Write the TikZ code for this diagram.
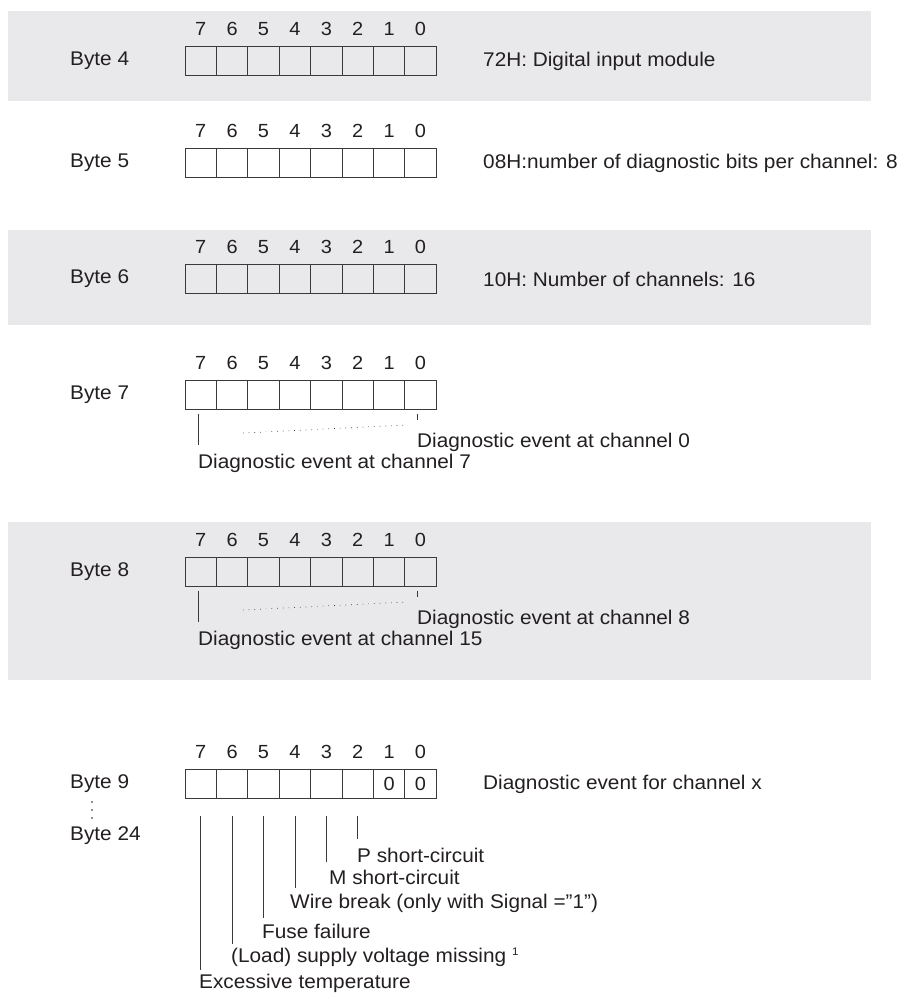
\documentclass[tikz,border=0pt]{standalone}
\usepackage{fontspec}
\setmainfont[FakeStretch=1.05]{Liberation Sans}
\definecolor{bandgray}{HTML}{E9E9EB}
\definecolor{txt}{HTML}{231F20}
\definecolor{ln}{HTML}{3A3A3A}
\tikzset{
  band/.style={fill=bandgray, draw=none},
  cell/.style={draw=ln, line width=0.9pt, minimum width=31.4pt, minimum height=29pt, inner sep=0pt, outer sep=0pt, font=\fontsize{19}{22}\selectfont, text=txt},
  digit/.style={inner sep=0pt, font=\fontsize{19}{22}\selectfont, text=txt},
  lbl/.style={anchor=west, inner sep=0pt, font=\fontsize{19.8}{23}\selectfont, text=txt},
  tick/.style={draw=ln, line width=0.8pt},
  dotline/.style={draw=ln, line width=0.7pt, dash pattern=on 0.7pt off 5pt},
}
\newcommand\byterow[2]{%
  \foreach \b in {0,...,7}{%
    \node[cell] (#1c\b) at ({200.7+31.4*(7-\b)},#2) {};
    \node[digit] (#1d\b) at ({200.7+31.4*(7-\b)},{#2-32}) {\b};
  }%
}
\begin{document}
\begin{tikzpicture}[x=1pt,y=-1pt]
\useasboundingbox (0,0) rectangle (909,999);
% bands
\fill[band] (8,11) rectangle (871,101);
\fill[band] (8,230) rectangle (871,325);
\fill[band] (8,522) rectangle (871,680);

% Byte 4
\byterow{bA}{61}
\node[lbl] (lA) at (70,61) {Byte 4};
\node[lbl] (tA) at (483,61) {72H: Digital input module};

% Byte 5
\byterow{bB}{163}
\node[lbl] (lB) at (70,163) {Byte 5};
\node[lbl] (tB) at (483,163) {08H:number of diagnostic bits per channel: 8};

% Byte 6
\byterow{bC}{279}
\node[lbl] (lC) at (70,279) {Byte 6};
\node[lbl] (tC) at (483,279) {10H: Number of channels: 16};

% Byte 7
\byterow{bD}{395}
\node[lbl] (lD) at (70,395) {Byte 7};
\node[lbl] (chD0) at (417,442) {Diagnostic event at channel 0};
\node[lbl] (chD7) at (198,463) {Diagnostic event at channel 7};
\coordinate (dDa) at (198,414);
\coordinate (dDb) at (198,445);
\draw[tick] (dDa) -- (dDb);
\coordinate (dDc) at (417,414);
\coordinate (dDd) at (417,420);
\draw[tick] (dDc) -- (dDd);
\coordinate (dDe) at (243,433);
\coordinate (dDf) at (407,425);
\draw[dotline] (dDe) -- (dDf);

% Byte 8
\byterow{bE}{572}
\node[lbl] (lE) at (70,572) {Byte 8};
\node[lbl] (chE0) at (417,619) {Diagnostic event at channel 8};
\node[lbl] (chE7) at (198,640) {Diagnostic event at channel 15};
\coordinate (dEa) at (198,591);
\coordinate (dEb) at (198,622);
\draw[tick] (dEa) -- (dEb);
\coordinate (dEc) at (417,591);
\coordinate (dEd) at (417,597);
\draw[tick] (dEc) -- (dEd);
\coordinate (dEe) at (243,610);
\coordinate (dEf) at (407,602);
\draw[dotline] (dEe) -- (dEf);

% Byte 9
\byterow{bF}{784}
\node[digit] at (bFc1) {0};
\node[digit] at (bFc0) {0};
\node[lbl] (lF) at (70,784) {Byte 9};
\node[lbl] (lG) at (70,836) {Byte 24};
\foreach \yy in {802,810,818} \fill[txt] (92,\yy) circle (0.8pt);
\node[lbl] (tF) at (483,784) {Diagnostic event for channel x};

\node[lbl] (e2) at (357,855) {P short-circuit};
\node[lbl] (e3) at (329,877) {M short-circuit};
\node[lbl] (e4) at (290,903) {Wire break (only with Signal =”1”)};
\node[lbl] (e5) at (262,931) {Fuse failure};
\node[lbl] (e6) at (231,957) {(Load) supply voltage missing {\fontsize{11}{11}\selectfont\raisebox{7pt}{1}}};
\node[lbl] (e7) at (199,983) {Excessive temperature};

\draw[tick] ([yshift=-17pt]bFc2.south) -- ++(0,23);
\draw[tick] ([yshift=-17pt]bFc3.south) -- ++(0,46);
\draw[tick] ([yshift=-17pt]bFc4.south) -- ++(0,72);
\draw[tick] ([yshift=-17pt]bFc5.south) -- ++(0,102);
\draw[tick] ([yshift=-17pt]bFc6.south) -- ++(0,128);
\draw[tick] ([yshift=-17pt]bFc7.south) -- ++(0,154);
\end{tikzpicture}
\end{document}
